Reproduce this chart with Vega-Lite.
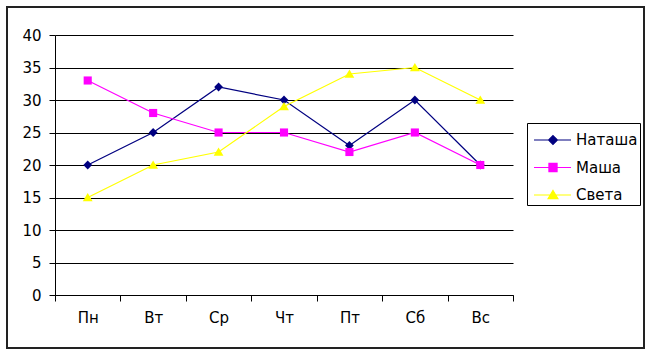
{
  "$schema": "https://vega.github.io/schema/vega-lite/v6.json",
  "autosize": {"type": "none"},
  "width": 637,
  "height": 341,
  "padding": {"left": 7, "top": 7, "right": 8, "bottom": 8},
  "background": "white",
  "config": {
    "view": {"stroke": "#222222", "strokeWidth": 2},
    "font": "DejaVu Sans",
    "axis": {"labelFont": "DejaVu Sans", "labelColor": "black"},
    "legend": {"labelFont": "DejaVu Sans"}
  },
  "data": {
    "values": [
      {"day": "Пн", "name": "Наташа", "value": 20},
      {"day": "Вт", "name": "Наташа", "value": 25},
      {"day": "Ср", "name": "Наташа", "value": 32},
      {"day": "Чт", "name": "Наташа", "value": 30},
      {"day": "Пт", "name": "Наташа", "value": 23},
      {"day": "Сб", "name": "Наташа", "value": 30},
      {"day": "Вс", "name": "Наташа", "value": 20},
      {"day": "Пн", "name": "Маша", "value": 33},
      {"day": "Вт", "name": "Маша", "value": 28},
      {"day": "Ср", "name": "Маша", "value": 25},
      {"day": "Чт", "name": "Маша", "value": 25},
      {"day": "Пт", "name": "Маша", "value": 22},
      {"day": "Сб", "name": "Маша", "value": 25},
      {"day": "Вс", "name": "Маша", "value": 20},
      {"day": "Пн", "name": "Света", "value": 15},
      {"day": "Вт", "name": "Света", "value": 20},
      {"day": "Ср", "name": "Света", "value": 22},
      {"day": "Чт", "name": "Света", "value": 29},
      {"day": "Пт", "name": "Света", "value": 34},
      {"day": "Сб", "name": "Света", "value": 35},
      {"day": "Вс", "name": "Света", "value": 30}
    ]
  },
  "encoding": {
    "x": {
      "field": "day",
      "type": "nominal",
      "sort": ["Пн", "Вт", "Ср", "Чт", "Пт", "Сб", "Вс"],
      "scale": {"type": "band", "range": [48, 506], "paddingInner": 0, "paddingOuter": 0},
      "axis": {
        "title": null,
        "orient": "bottom",
        "offset": -53,
        "tickBand": "extent",
        "domainColor": "black",
        "tickColor": "black",
        "tickSize": 6,
        "labelFontSize": 15,
        "labelPadding": 9,
        "labelAngle": 0,
        "grid": false
      }
    },
    "y": {
      "field": "value",
      "type": "quantitative",
      "scale": {"domain": [0, 40], "range": [288, 28], "nice": false, "zero": true},
      "axis": {
        "title": null,
        "orient": "left",
        "offset": -48,
        "values": [0, 5, 10, 15, 20, 25, 30, 35, 40],
        "domainColor": "black",
        "tickColor": "black",
        "tickSize": 6,
        "labelFontSize": 15,
        "labelPadding": 8,
        "grid": true,
        "gridColor": "black",
        "gridOpacity": 1,
        "gridWidth": 1
      }
    }
  },
  "resolve": {"scale": {"color": "independent", "shape": "independent"}},
  "layer": [
    {
      "mark": {"type": "line", "strokeWidth": 1.2},
      "encoding": {
        "color": {
          "field": "name",
          "type": "nominal",
          "scale": {"domain": ["Наташа", "Маша", "Света"], "range": ["#000080", "#FF00FF", "#FFFF00"]},
          "legend": {
            "title": null,
            "orient": "none",
            "legendX": 520,
            "legendY": 116,
            "strokeColor": "black",
            "fillColor": "white",
            "padding": 2,
            "rowPadding": 4.5,
            "symbolSize": 784,
            "labelFontSize": 15,
            "labelOffset": 17,
            "labelColor": "black",
            "symbolStrokeWidth": 1.2,
            "symbolOpacity": 1
          }
        },
        "shape": {
          "field": "name",
          "type": "nominal",
          "scale": {
            "domain": ["Наташа", "Маша", "Света"],
            "range": [
              "M-0.714,0H1.93M0.643,-0.314L0.957,0L0.643,0.314L0.329,0Z",
              "M-0.714,0H1.93M0.353,-0.29H0.933V0.29H0.353Z",
              "M-0.714,0H1.93M0.643,-0.32L0.993,0.26H0.293Z"
            ]
          }
        }
      }
    },
    {
      "mark": {"type": "point", "filled": true, "opacity": 1, "size": 784, "strokeWidth": 0},
      "encoding": {
        "color": {
          "field": "name",
          "type": "nominal",
          "scale": {"domain": ["Наташа", "Маша", "Света"], "range": ["#000080", "#FF00FF", "#FFFF00"]},
          "legend": null
        },
        "shape": {
          "field": "name",
          "type": "nominal",
          "scale": {
            "domain": ["Наташа", "Маша", "Света"],
            "range": [
              "M0,-0.314L0.314,0L0,0.314L-0.314,0Z",
              "M-0.29,-0.29H0.29V0.29H-0.29Z",
              "M0,-0.32L0.35,0.26H-0.35Z"
            ]
          },
          "legend": null
        }
      }
    }
  ]
}
